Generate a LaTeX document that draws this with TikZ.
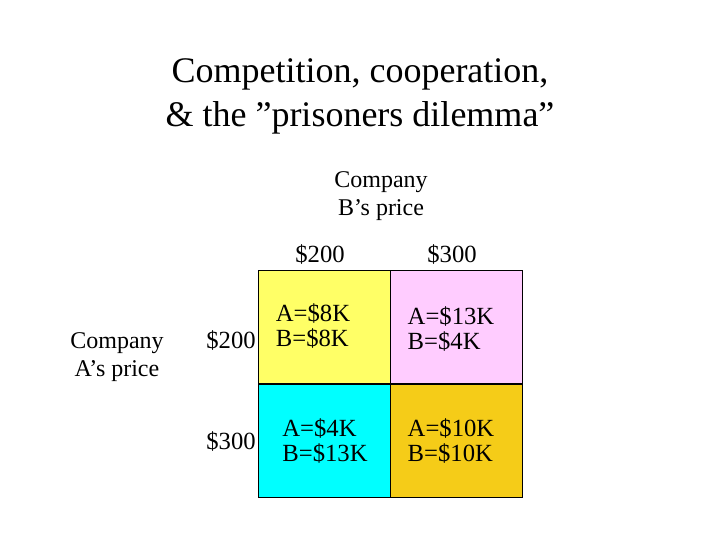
\documentclass[tikz,border=0pt]{standalone}
\usepackage{fontspec}
\setmainfont{Liberation Serif}
\definecolor{cy}{HTML}{FFFF66}
\definecolor{cp}{HTML}{FFCCFF}
\definecolor{cc}{HTML}{00FFFF}
\definecolor{cg}{HTML}{F5CC18}
\begin{document}
\begin{tikzpicture}[x=0.75pt,y=-0.75pt,
  lab/.style={font=\fontsize{18}{21}\selectfont,align=center},
  cell/.style={draw=black,line width=0.6pt,minimum width=99pt,minimum height=85pt,anchor=north west,inner sep=0pt},
  ctext/.style={font=\fontsize{18.5}{19}\selectfont,align=left}]
\useasboundingbox (0,0) rectangle (720,540);
\node[font=\fontsize{27}{33}\selectfont,align=center] (title) at (360,96) {Competition, cooperation,\\\& the \symbol{34}prisoners dilemma\symbol{34}};
\node[lab] (cb) at (381,196) {Company\\B\symbol{39}s price};
\node[lab] (ca) at (117,357) {Company\\A\symbol{39}s price};
\node[ctext] (b200) at (320,255) {\$200};
\node[ctext] (b300) at (452,255) {\$300};
\node[ctext] (a200) at (231,340) {\$200};
\node[ctext] (a300) at (231,441) {\$300};
\node[cell,fill=cy] (c11) at (258,270) {};
\node[cell,fill=cp] (c12) at (390,270) {};
\node[cell,fill=cc] (c21) at (258,384) {};
\node[cell,fill=cg] (c22) at (390,384) {};
\node[ctext] at (313,326) {A=\$8K\\B=\$8K};
\node[ctext] at (451,329) {A=\$13K\\B=\$4K};
\node[ctext] at (325,441) {A=\$4K\\B=\$13K};
\node[ctext] at (451,441) {A=\$10K\\B=\$10K};
\end{tikzpicture}
\end{document}
